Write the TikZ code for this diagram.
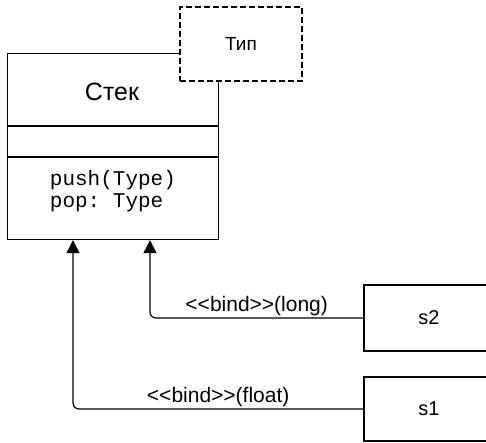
\documentclass[tikz,border=0pt]{standalone}
\usepackage{fontspec}
\setmainfont{Liberation Sans}
\setmonofont{Liberation Mono}
\usetikzlibrary{arrows.meta}

\begin{document}
\begin{tikzpicture}[x=1pt,y=-1pt,line width=1.2pt,
    box/.style={draw,rectangle,inner sep=0pt},
    bindarrow/.style={-{Triangle[width=13pt,length=13pt]},rounded corners=6pt},
    lbl/.style={font=\fontsize{21}{24}\selectfont,inner sep=2pt}]
  \clip (0,0) rectangle (486,443);

  % klass
  \node[box,minimum width=211,minimum height=186,anchor=north west] (stack) at (7,53) {};
  \node[font=\fontsize{25}{28}\selectfont] (name) at (112,92) {Стек};
  \draw ([yshift=-73pt]stack.north west) -- ([yshift=-73pt]stack.north east);
  \draw ([yshift=-104pt]stack.north west) -- ([yshift=-104pt]stack.north east);
  \node[anchor=west,align=left,font=\ttfamily\fontsize{21}{22}\selectfont] (ops) at (46,191) {push(Type)\\pop: Type};

  % parametr
  \node[box,dashed,dash pattern=on 6pt off 3pt,fill=white,minimum width=122,minimum height=74,
        font=\fontsize{19}{22}\selectfont] (tip) at (241,44) {Тип};

  % s1, s2
  \node[box,minimum width=130,minimum height=66,font=\fontsize{20}{22}\selectfont] (s2) at (429,318) {s2};
  \node[box,minimum width=130,minimum height=64,font=\fontsize{20}{22}\selectfont] (s1) at (429,409) {s1};

  % svyazi
  \draw[bindarrow] (s2.west) -| node[lbl,above,pos=0.25] {{<}{<}bind{>}{>}(long)} ([xshift=143pt]stack.south west);
  \draw[bindarrow] (s1.west) -| node[lbl,above,pos=0.25] {{<}{<}bind{>}{>}(float)} ([xshift=66pt]stack.south west);
\end{tikzpicture}
\end{document}
